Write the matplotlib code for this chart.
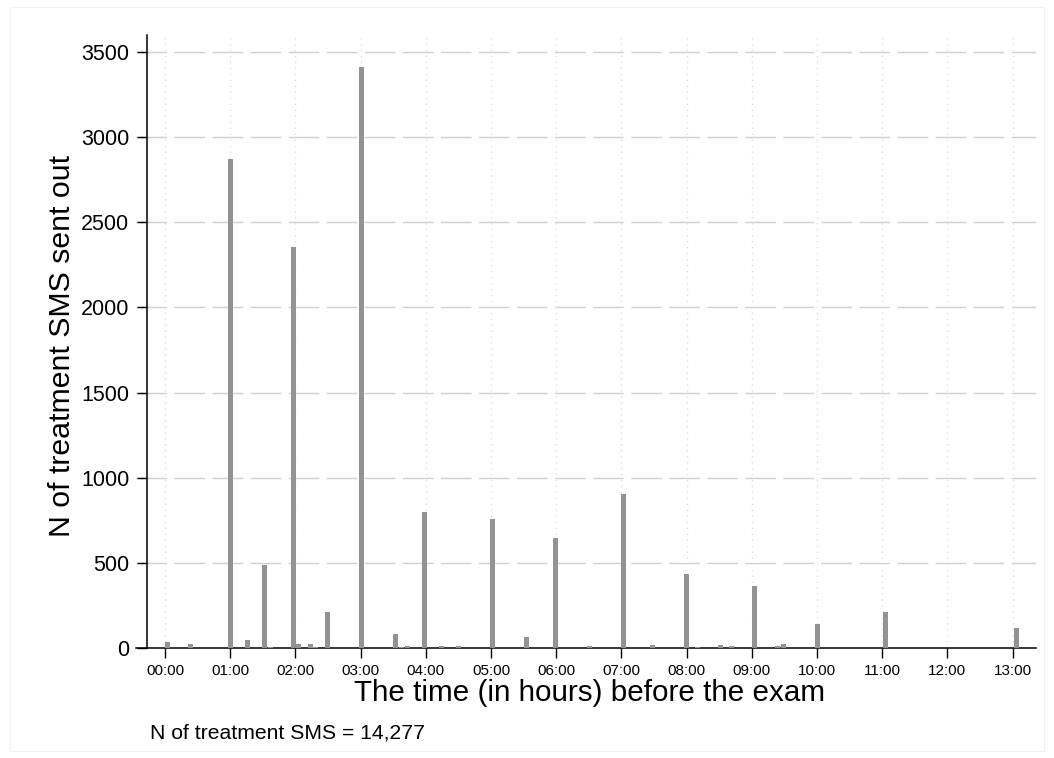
import matplotlib
matplotlib.use("Agg")
import matplotlib.pyplot as plt
from matplotlib.patches import Rectangle
import numpy as np

plt.rcParams['font.family'] = ['Liberation Sans', 'DejaVu Sans']

# Data: bar positions (minutes before the exam, left edge of bin) and counts
minutes = [0.0, 21.2, 58.0, 73.6, 89.3, 94.5, 116.0, 120.6, 131.6, 136.2,
           147.2, 178.5, 209.8, 215.3, 220.9, 236.5, 252.1, 267.8, 299.1, 330.4,
           357.1, 388.3, 419.6, 446.3, 477.6, 487.7, 508.9, 519.0, 539.9, 561.3,
           566.9, 598.2, 660.7, 781.3]
counts = [37, 24, 2870, 47, 487, 5, 2355, 24, 24, 5,
          210, 3415, 84, 5, 12, 800, 12, 12, 755, 65,
          648, 12, 905, 18, 435, 4, 18, 12, 364, 12,
          25, 141, 211, 117]
hour_ticks = list(range(0, 14))
hour_labels = ["%02d:00" % h for h in hour_ticks]
y_ticks = [0, 500, 1000, 1500, 2000, 2500, 3000, 3500]
note = "N of treatment SMS = 14,277"

W, H = 1054, 758
fig = plt.figure(figsize=(W / 100, H / 100), dpi=100)
fig.patch.set_facecolor("white")

# faint outer frame
fig.add_artist(Rectangle((10 / W, 1 - 751 / H), 1034 / W, 744 / H,
                         transform=fig.transFigure, fill=False,
                         edgecolor="#f2f2f2", lw=0.8))

ax_l, ax_r, ax_b, ax_t = 136, 1036, 648, 35
ax = fig.add_axes([ax_l / W, 1 - ax_b / H, (ax_r - ax_l) / W, (ax_b - ax_t) / H])

px_per_hour = 65.2
x0_px = 165
xlim = ((ax_l - x0_px) / px_per_hour, (ax_r - x0_px) / px_per_hour)
ax.set_xlim(*xlim)
ax.set_ylim(0, 3600)

for s in ["top", "right"]:
    ax.spines[s].set_visible(False)
ax.spines["left"].set_position(("data", (147 - x0_px) / px_per_hour))
ax.spines["left"].set_linewidth(1.1)
ax.spines["bottom"].set_linewidth(1.1)

hours = np.array(minutes) / 60.0
bar_w = 5.0 / px_per_hour
ax.bar(hours, counts, width=bar_w, align="edge", color="#939393",
       edgecolor="none", zorder=3)

# grid lines
for yv in y_ticks[1:]:
    ax.axhline(yv, color="#cfcfcf", lw=1.0, dashes=(22, 5.4), zorder=1)
for h in hour_ticks:
    ax.axvline(h, color="#dedede", lw=1.0, linestyle=(0, (1, 3.3)), zorder=1)

ax.set_xticks(hour_ticks)
ax.set_xticklabels(hour_labels)
ax.set_yticks(y_ticks)
ax.set_yticklabels([str(v) for v in y_ticks])
ax.tick_params(axis="both", length=7.2, width=1.0, color="black")
ax.tick_params(axis="x", pad=4, labelsize=11)
ax.tick_params(axis="y", pad=5.6, labelsize=15.5)

ax.set_xlabel("The time (in hours) before the exam", fontsize=21.3)
ax.xaxis.set_label_coords(0.5 + (590 - 586) / 900, -(679 - 648) / 613)
ax.set_ylabel("N of treatment SMS sent out", fontsize=21.8)
ax.yaxis.set_label_coords((76 - 136) / 900, 0.5 - (346 - 341.5) / 613)

fig.text(150 / W, 1 - 738.5 / H, note, fontsize=15.2, ha="left", va="baseline")

fig.savefig("out.png", dpi=100, facecolor="white")
